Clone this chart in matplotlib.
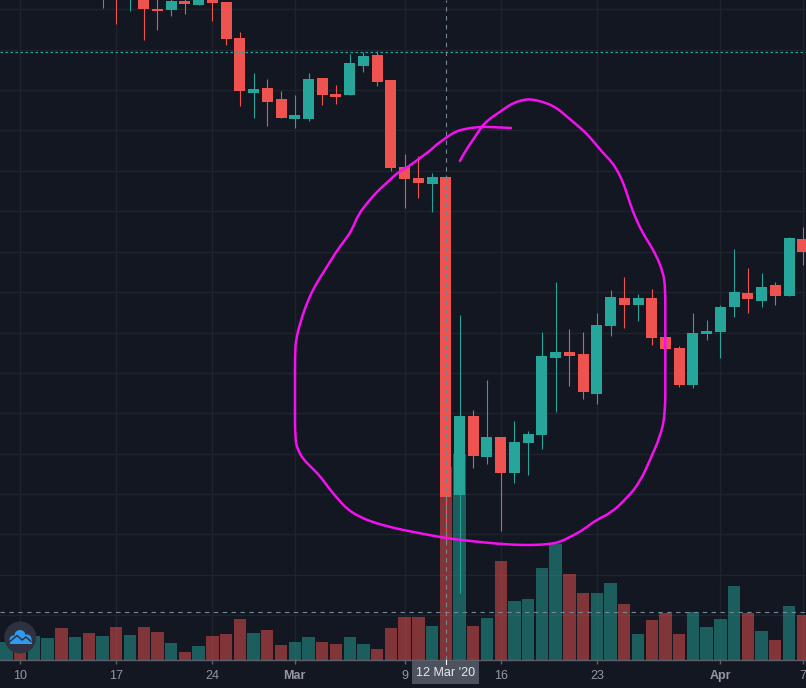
import numpy as np
import matplotlib
matplotlib.use("Agg")
import matplotlib.pyplot as plt
from matplotlib.patches import Circle, Rectangle, PathPatch
from matplotlib.path import Path

# Daily candles, indexed by days relative to 12 Mar 2020
days = list(range(-25, 27))
opens = [692, 708, 691, 696, 679, 678, 687, 683, 690, 686, 650, 595, 600, 589, 569, 569, 610, 594, 593, 622,
         633, 608, 521, 510, 504, 511, 193, 272, 231, 251, 215, 245, 253, 330, 336, 334, 294, 362, 390, 383,
         390, 351, 340, 303, 354, 356, 381, 395, 387, 403, 392, 449]
closes = [706, 694, 704, 679, 677, 687, 684, 691, 685, 649, 597, 599, 586, 570, 573, 609, 593, 591, 625, 632,
          606, 520, 509, 505, 511, 191, 272, 232, 251, 215, 246, 254, 332, 336, 332, 296, 363, 391, 383, 390,
          350, 339, 303, 355, 357, 381, 396, 389, 401, 392, 450, 436]
highs = [710, 713, 708, 700, 693, 690, 691, 694, 693, 686, 656, 615, 609, 597, 593, 615, 610, 603, 634, 636,
         637, 608, 534, 532, 515, 513, 373, 278, 308, 251, 267, 257, 356, 406, 359, 356, 375, 398, 411, 394,
         399, 351, 342, 375, 368, 383, 439, 420, 415, 406, 451, 461]
lows = [680, 664, 677, 648, 658, 672, 674, 683, 667, 643, 582, 570, 562, 570, 560, 567, 583, 584, 593, 616,
        602, 517, 480, 490, 476, 143, 95, 220, 224, 157, 205, 213, 239, 276, 302, 289, 284, 352, 360, 367,
        343, 317, 301, 300, 348, 330, 371, 375, 381, 383, 392, 423]

# Volume per day from -32 onward; the first seven days have no visible candle
volume_days = list(range(-32, 27))
early_rising = [True, False, True, True, False, True, False]
volumes = [18, 16, 24, 22, 32, 23, 27, 24, 33, 25, 33, 28, 17, 8, 14, 24, 26, 41, 27, 30, 15, 18, 23, 18, 16,
           23, 16, 11, 32, 43, 43, 34, 193, 206, 34, 42, 99, 59, 61, 92, 116, 86, 67, 67, 77, 56, 26, 40, 47,
           26, 48, 33, 41, 74, 47, 29, 20, 54, 45]

# Axis labels
tick_days = [-31, -24, -17, -11, -3, 4, 11, 20, 26]
tick_labels = ["10", "17", "24", "Mar", "9", "16", "23", "Apr", "7"]
bold_labels = {"Mar", "Apr"}
price_levels = [678.7, 638, 597.7, 558, 517, 477, 436, 396, 355, 315, 275, 234, 194, 154, 113, 73]
last_price = 635.7
crosshair_price = 75.7
crosshair_day = 0
crosshair_label = "12 Mar '20"

# Hand-drawn loop around the crash, in screen pixels
stroke_x = [511, 500, 486, 476, 466, 457, 450, 443, 436, 431, 420, 408, 397, 390, 382, 375, 368, 358, 352, 345,
            336, 325, 316, 308, 300, 296, 295, 295, 295, 298, 303, 311, 320, 328, 337, 347, 358, 372, 390, 403, 424,
            445, 470, 500, 520, 536, 550, 560, 572, 583, 596, 611, 627, 640, 650, 660, 665.3, 665.3, 665.3, 665.3,
            663, 656, 649, 641, 633, 628, 623, 616, 610, 603, 594, 585, 578, 571, 565, 558, 551, 543, 531, 523, 516,
            508, 500, 492, 485, 480, 475, 470, 465, 462, 460]
stroke_y = [128, 127.5, 126.8, 127.3, 128.7, 131, 135, 140, 145, 150, 158, 167, 173, 180, 187, 194, 202, 215, 230, 240,
            252, 270, 284, 300, 323, 340, 352, 400, 440, 450, 459, 467, 476, 487, 498, 509, 516, 522, 527, 530, 534,
            538, 541, 544, 545, 545, 544, 542, 536, 530, 520, 513, 498, 482, 460, 437, 415, 370, 320, 287,
            272, 255, 243, 230, 212, 197, 182, 168, 160, 153, 142, 132, 126, 120, 115, 109, 105, 102, 99, 100, 102,
            106, 112, 117, 123, 129, 137, 144, 152, 157, 161]

BG = "#131722"
UP = "#26a69a"
DOWN = "#ef5350"
GRID = "#1f232e"
AXIS = "#5d606b"
LABEL = "#9598a1"
CROSS = "#758696"

plt.rcParams["font.family"] = ["Liberation Sans", "DejaVu Sans"]
W, H = 806, 688
fig = plt.figure(figsize=(W / 100, H / 100), dpi=100, facecolor=BG)

# Price pane ends where the time axis begins
AXIS_PX = 660
px_per_day = 13.73
x0 = 445.8
ax = fig.add_axes([0, 1 - AXIS_PX / H, 1, AXIS_PX / H], facecolor=BG)
ax.set_xlim(-x0 / px_per_day, (W - x0) / px_per_day)
ax.set_ylim(H - AXIS_PX, H)

ax.set_xticks(tick_days)
ax.set_xticklabels(tick_labels)
for lbl in ax.get_xticklabels():
    lbl.set_fontweight("bold" if lbl.get_text() in bold_labels else "normal")
ax.set_yticks(price_levels)
ax.tick_params(axis="x", colors=AXIS, length=3, width=1, pad=4, labelsize=9, labelcolor=LABEL)
ax.tick_params(axis="y", length=0, labelleft=False)
ax.grid(True, color=GRID, linewidth=1.0)
ax.set_axisbelow(True)
for name, spine in ax.spines.items():
    spine.set_visible(name == "bottom")
ax.spines["bottom"].set_color(AXIS)
ax.spines["bottom"].set_linewidth(1.0)

# Volume histogram sits above the grid on its own scale
vol_ax = ax.twinx()
vol_ax.set_ylim(0, AXIS_PX)
vol_ax.axis("off")
rising = early_rising + [c >= o for o, c in zip(opens, closes)]
vol_ax.bar(volume_days, volumes, width=0.9,
           color=[UP if r else DOWN for r in rising], alpha=0.5, linewidth=0)

# Candles and guide lines go in a layer above the volume
price_ax = ax.twinx()
price_ax.set_ylim(H - AXIS_PX, H)
price_ax.axis("off")
for d, o, c, h, l in zip(days, opens, closes, highs, lows):
    col = UP if c >= o else DOWN
    price_ax.vlines(d, l, h, color=col, linewidth=0.8, zorder=3)
    price_ax.bar(d, abs(c - o), bottom=min(o, c), width=0.8, color=col, linewidth=0, zorder=4)

# Last-price line and crosshair
price_ax.axhline(last_price, color=UP, linewidth=0.9, linestyle=(0, (2, 2)), zorder=5)
price_ax.axhline(crosshair_price, color=CROSS, linewidth=0.8, linestyle=(0, (4, 4)), zorder=5)
price_ax.axvline(crosshair_day, color=CROSS, linewidth=0.8, linestyle=(0, (4, 4)), zorder=5)

# Screen-space layer for the freehand stroke, the logo and the date tag
top = fig.add_axes([0, 0, 1, 1], facecolor="none")
top.set_xlim(0, W)
top.set_ylim(H, 0)
top.axis("off")

# Stroke vertices act as quadratic control points so the pen line reads smooth
pts = np.column_stack([stroke_x, stroke_y])
mids = (pts[:-1] + pts[1:]) / 2
verts = [pts[0]]
codes = [Path.MOVETO]
for ctrl, end in zip(pts[1:-1], mids[1:]):
    verts += [ctrl, end]
    codes += [Path.CURVE3, Path.CURVE3]
verts.append(pts[-1])
codes.append(Path.LINETO)
top.add_patch(PathPatch(Path(verts, codes), facecolor="none", edgecolor="#f510f0", linewidth=1.8,
                        capstyle="round", joinstyle="round"))

top.add_patch(Rectangle((412, 661), 67, 23, facecolor="#4c525e", edgecolor="none"))
top.plot([445.5, 445.5], [660, 664], color="white", linewidth=0.8)
top.text(445.5, 673, crosshair_label, color="#e8e9ec", fontsize=9, ha="center", va="center")

# Logo badge
top.add_patch(Circle((20.3, 637.5), 16, facecolor="#2e3240", edgecolor="none"))
cloud_blue = "#2f9bef"
for cx, cy, r in [(13.5, 639.5, 4), (20, 635.5, 5.5), (27, 639, 4.5)]:
    top.add_patch(Circle((cx, cy), r, facecolor=cloud_blue, edgecolor="none"))
top.add_patch(Rectangle((9.5, 639.5), 22, 4, facecolor=cloud_blue, edgecolor="none"))
top.plot([10.5, 17, 22, 26, 31], [641, 635.5, 640, 637, 641.5], color="#2e3240", linewidth=1.1)

fig.savefig("out.png", dpi=100, facecolor=BG)
